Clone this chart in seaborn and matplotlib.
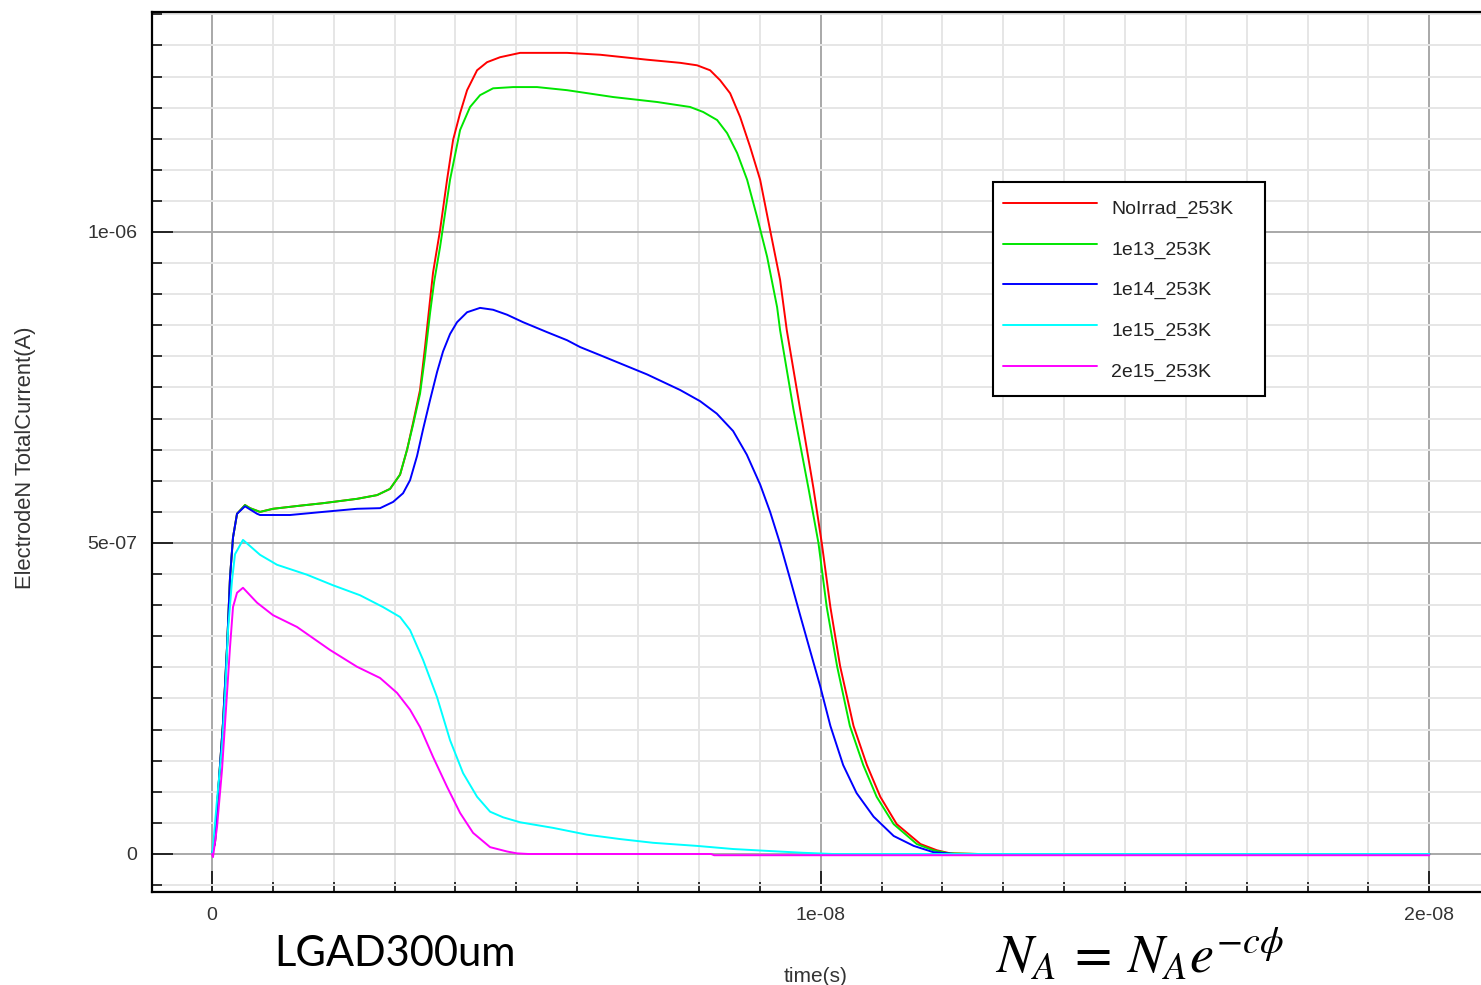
import matplotlib
matplotlib.use("Agg")
import matplotlib.pyplot as plt
from matplotlib.lines import Line2D
from matplotlib.ticker import MultipleLocator, FuncFormatter
import pandas as pd
import seaborn as sns

sns.set_style("white")
plt.rcParams["font.family"] = ["Liberation Sans", "DejaVu Sans"]
plt.rcParams["mathtext.fontset"] = "stix"

series_labels = ["NoIrrad_253K", "1e13_253K", "1e14_253K", "1e15_253K", "2e15_253K"]
series_colors = ["#ff0000", "#00e600", "#0000ff", "#00ffff", "#ff00ff"]

# time in ns, electrode current in uA
t_noirrad = [0, 0.049, 0.099, 0.181, 0.247, 0.296, 0.345, 0.411, 0.542, 0.624, 0.789, 1.002,
             1.446, 1.824, 2.383, 2.712, 2.925, 3.090, 3.205, 3.303, 3.418, 3.500, 3.583,
             3.632, 3.747, 3.862, 3.961, 4.076, 4.191, 4.355, 4.519, 4.733, 5.062, 5.834,
             6.376, 7.149, 7.691, 7.970, 8.184, 8.348, 8.513, 8.677, 8.841, 9.006, 9.170,
             9.334, 9.444, 9.663, 9.882, 10.02, 10.16, 10.32, 10.54, 10.76, 10.98, 11.25,
             11.64, 11.91, 12.13, 12.6, 20.0]
i_noirrad = [0, 0.018, 0.098, 0.211, 0.333, 0.445, 0.509, 0.547, 0.561, 0.556, 0.550, 0.555,
             0.560, 0.564, 0.571, 0.577, 0.587, 0.610, 0.650, 0.693, 0.746, 0.815, 0.891,
             0.935, 1.003, 1.084, 1.148, 1.191, 1.228, 1.260, 1.273, 1.281, 1.288, 1.288,
             1.285, 1.277, 1.272, 1.268, 1.260, 1.244, 1.223, 1.185, 1.137, 1.084, 1.003,
             0.923, 0.842, 0.715, 0.588, 0.499, 0.397, 0.302, 0.206, 0.143, 0.092, 0.048,
             0.016, 0.006, 0.001, 0.0, 0.0]

t_1e13 = [0, 0.049, 0.099, 0.181, 0.247, 0.296, 0.345, 0.411, 0.542, 0.624, 0.789, 1.002,
          1.446, 1.824, 2.383, 2.712, 2.925, 3.090, 3.205, 3.303, 3.418, 3.500, 3.583,
          3.650, 3.747, 3.911, 4.076, 4.240, 4.404, 4.618, 4.947, 5.341, 5.834, 6.590,
          7.313, 7.855, 8.069, 8.299, 8.463, 8.628, 8.792, 8.956, 9.121, 9.285, 9.334,
          9.553, 9.800, 9.964, 10.10, 10.27, 10.48, 10.70, 10.92, 11.20, 11.58, 11.85,
          12.1, 12.6, 20.0]
i_1e13 = [0, 0.018, 0.098, 0.211, 0.333, 0.445, 0.509, 0.547, 0.561, 0.556, 0.550, 0.555,
          0.560, 0.564, 0.571, 0.577, 0.587, 0.610, 0.650, 0.690, 0.740, 0.800, 0.870,
          0.920, 0.976, 1.084, 1.164, 1.201, 1.220, 1.231, 1.233, 1.233, 1.228, 1.217,
          1.209, 1.201, 1.193, 1.180, 1.159, 1.127, 1.084, 1.024, 0.960, 0.879, 0.842,
          0.715, 0.588, 0.500, 0.397, 0.302, 0.206, 0.143, 0.092, 0.048, 0.016, 0.006,
          0.001, 0.0, 0.0]

t_1e14 = [0, 0.049, 0.099, 0.181, 0.247, 0.296, 0.345, 0.411, 0.542, 0.740, 0.789, 1.282,
          1.824, 2.383, 2.761, 2.975, 3.139, 3.254, 3.369, 3.468, 3.583, 3.698, 3.796,
          3.911, 4.026, 4.191, 4.404, 4.618, 4.848, 5.111, 5.505, 5.834, 6.048, 6.376,
          7.149, 7.691, 8.020, 8.294, 8.562, 8.787, 9.006, 9.170, 9.334, 9.499, 9.663,
          9.827, 9.992, 10.16, 10.37, 10.59, 10.87, 11.20, 11.53, 11.85, 12.2, 20.0]
i_1e14 = [0, 0.018, 0.098, 0.211, 0.333, 0.445, 0.509, 0.547, 0.559, 0.547, 0.545, 0.545,
          0.550, 0.555, 0.556, 0.566, 0.580, 0.601, 0.640, 0.683, 0.730, 0.775, 0.808,
          0.836, 0.855, 0.871, 0.878, 0.875, 0.867, 0.855, 0.839, 0.826, 0.815, 0.802,
          0.771, 0.746, 0.728, 0.708, 0.680, 0.642, 0.594, 0.550, 0.499, 0.442, 0.384,
          0.327, 0.270, 0.206, 0.143, 0.098, 0.060, 0.029, 0.013, 0.003, 0.0, 0.0]

t_1e15 = [0, 0.016, 0.082, 0.164, 0.214, 0.263, 0.329, 0.378, 0.509, 0.789, 1.068, 1.561,
          1.989, 2.432, 2.810, 3.090, 3.254, 3.468, 3.698, 3.911, 4.125, 4.355, 4.569,
          4.782, 5.062, 5.604, 6.163, 6.705, 7.247, 7.970, 8.562, 9.121, 9.7, 10.2, 20.0]
i_1e15 = [0, 0.011, 0.087, 0.172, 0.252, 0.360, 0.440, 0.482, 0.505, 0.481, 0.465, 0.449,
          0.432, 0.416, 0.397, 0.381, 0.360, 0.312, 0.252, 0.183, 0.130, 0.092, 0.068,
          0.059, 0.051, 0.042, 0.031, 0.024, 0.018, 0.013, 0.008, 0.005, 0.002, 0.0, 0.0]

t_2e15 = [0, 0.016, 0.082, 0.164, 0.247, 0.296, 0.345, 0.411, 0.509, 0.740, 1.002, 1.397,
          1.939, 2.383, 2.761, 3.040, 3.254, 3.418, 3.632, 3.862, 4.076, 4.289, 4.569,
          4.848, 5.012, 5.2, 8.2, 8.25, 20.0]
i_2e15 = [0, -0.005, 0.043, 0.135, 0.259, 0.333, 0.397, 0.420, 0.428, 0.404, 0.384, 0.365,
          0.328, 0.301, 0.283, 0.259, 0.232, 0.204, 0.156, 0.108, 0.066, 0.034, 0.011,
          0.004, 0.001, 0.0, 0.0, -0.002, -0.002]

series_times = [t_noirrad, t_1e13, t_1e14, t_1e15, t_2e15]
series_currents = [i_noirrad, i_1e13, i_1e14, i_1e15, i_2e15]

frames = []
for label, ts, cs in zip(series_labels, series_times, series_currents):
    frames.append(pd.DataFrame({
        "time": [t * 1e-9 for t in ts],
        "current": [c * 1e-6 for c in cs],
        "series": label,
    }))
df = pd.concat(frames, ignore_index=True)

W, H = 1481, 985
fig = plt.figure(figsize=(W / 100, H / 100), dpi=100)
ax_l, ax_r, ax_t, ax_b = 152, 1481, 12, 892
ax = fig.add_axes([ax_l / W, (H - ax_b) / H, (ax_r - ax_l) / W, (ax_b - ax_t) / H])

palette = dict(zip(series_labels, series_colors))
sns.lineplot(data=df, x="time", y="current", hue="series", hue_order=series_labels,
             palette=palette, estimator=None, sort=False, linewidth=1.4,
             legend=False, ax=ax)

ax.set_xlim(-0.986e-9, 20.85e-9)
ax.set_ylim(-0.0611e-6, 1.3537e-6)

sci = FuncFormatter(lambda v, p: "0" if abs(v) < 1e-20 else f"{v:.0e}")
ax.xaxis.set_major_locator(MultipleLocator(1e-8))
ax.xaxis.set_minor_locator(MultipleLocator(1e-9))
ax.yaxis.set_major_locator(MultipleLocator(5e-7))
ax.yaxis.set_minor_locator(MultipleLocator(5e-8))
ax.xaxis.set_major_formatter(sci)
ax.yaxis.set_major_formatter(sci)

ax.set_axisbelow(True)
ax.grid(which="major", color="#a8a8a8", linewidth=1.4)
ax.grid(which="minor", color="#e6e6e6", linewidth=1.4)

ax.tick_params(which="both", direction="in", color="black", width=1.1,
               left=True, bottom=True, top=False, right=False)
ax.tick_params(which="major", length=15, pad=10.5, labelsize=14, labelcolor="#333333")
ax.tick_params(which="minor", length=7.2)

for side in ("left", "bottom", "top"):
    ax.spines[side].set_visible(True)
    ax.spines[side].set_color("black")
    ax.spines[side].set_linewidth(1.6)
ax.spines["right"].set_visible(False)

ax.set_xlabel("time(s)", fontsize=15, color="#333333")
ax.set_ylabel("ElectrodeN TotalCurrent(A)", fontsize=15.8, color="#333333")
ax.xaxis.set_label_coords((816 - ax_l) / (ax_r - ax_l), (ax_b - 976) / (ax_b - ax_t))
ax.xaxis.label.set_verticalalignment("center")
ax.yaxis.set_label_coords((25 - ax_l) / (ax_r - ax_l), (ax_b - 458) / (ax_b - ax_t))
ax.yaxis.label.set_verticalalignment("center")

handles = [Line2D([], [], color=c, linewidth=1.4) for c in series_colors]
leg = ax.legend(handles, series_labels, loc="upper left",
                bbox_to_anchor=((993 - ax_l) / (ax_r - ax_l), (ax_b - 182) / (ax_b - ax_t),
                                272 / (ax_r - ax_l), 0),
                mode="expand", borderaxespad=0, borderpad=0.51, handlelength=4.85,
                handletextpad=0.72, handleheight=2.1, labelspacing=0.486, fontsize=14,
                frameon=True, fancybox=False, framealpha=1, edgecolor="black")
leg.get_frame().set_linewidth(1.5)
for txt in leg.get_texts():
    txt.set_color("#222222")

fig.text(274 / W, (H - 966) / H, "LGAD300um", fontsize=30, family="Lato",
         color="black", ha="left", va="baseline")
fig.text(995 / W, (H - 973) / H, r"$N_A\:=\:N_A e^{-c\phi}$", fontsize=39,
         color="black", ha="left", va="baseline")

fig.savefig("out.png", dpi=100)
